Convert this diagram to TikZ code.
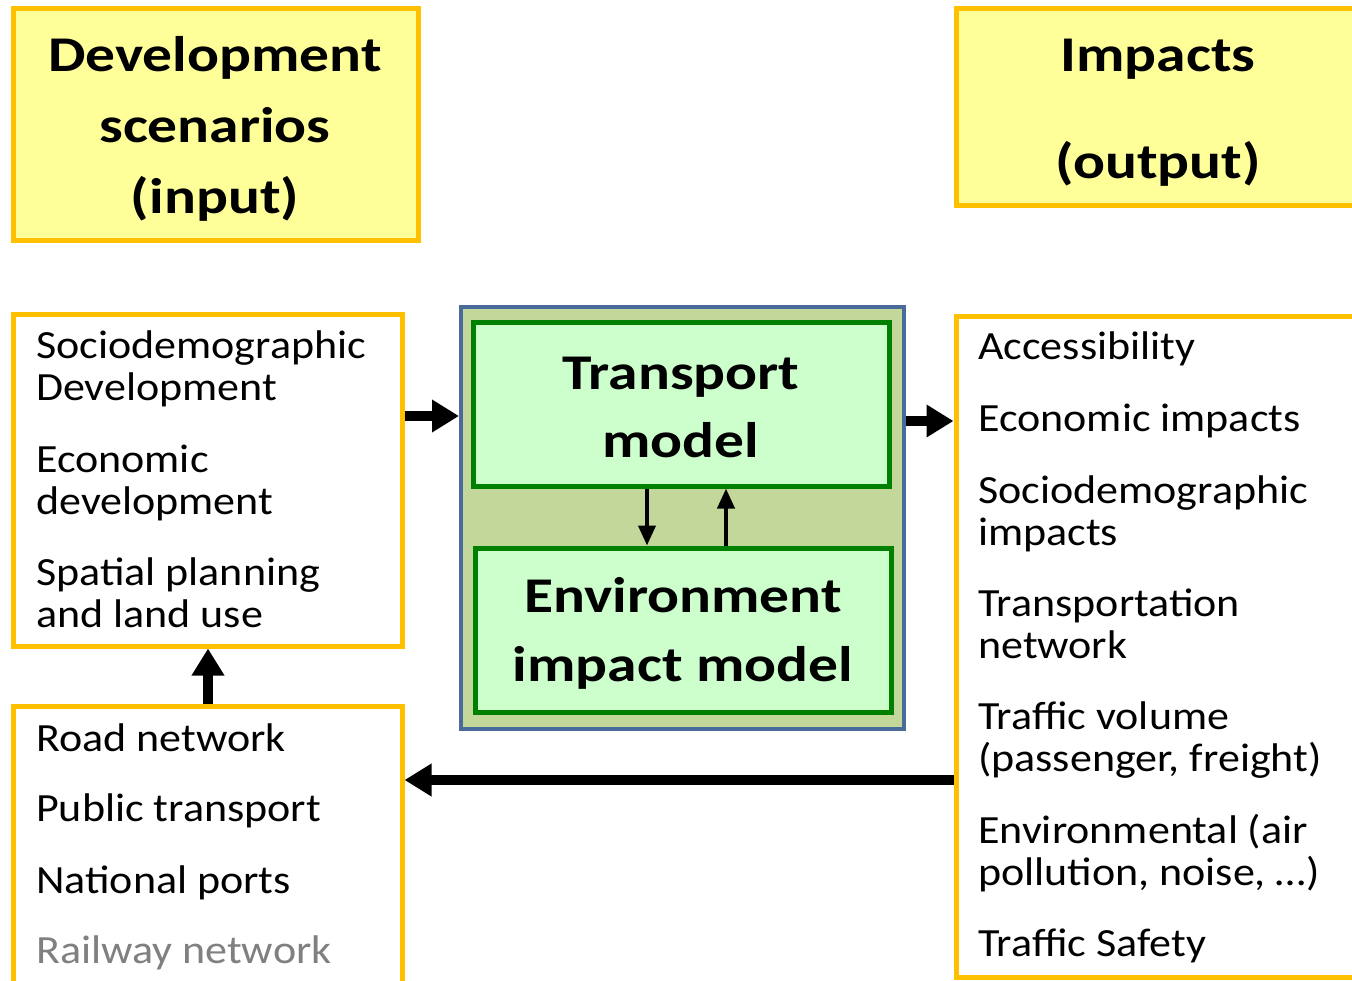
\documentclass[tikz,border=0pt]{standalone}
\usepackage{fontspec}
\setmainfont{Carlito}
\newfontfamily\bodyf[FakeStretch=1.1]{Carlito}
\newfontfamily\titf[FakeStretch=1.19]{Carlito}
\usetikzlibrary{arrows.meta}
\definecolor{gold}{HTML}{FFC000}
\definecolor{lyellow}{HTML}{FFFF99}
\definecolor{outerfill}{HTML}{C4D79B}
\definecolor{outerblue}{HTML}{4A6A9A}
\definecolor{lgreen}{HTML}{CCFFCC}
\definecolor{dgreen}{HTML}{008000}
\definecolor{railgray}{HTML}{808080}
\tikzset{
  ybox/.style={draw=gold, line width=5pt, fill=lyellow, inner sep=0pt},
  wbox/.style={draw=gold, line width=5pt, fill=white, inner sep=0pt},
  gbox/.style={draw=dgreen, line width=5pt, fill=lgreen, inner sep=0pt},
  obox/.style={draw=outerblue, line width=4pt, fill=outerfill, inner sep=0pt},
  item/.style={anchor=west, inner sep=0pt, align=left, font=\bodyf\fontsize{40}{42}\selectfont},
  title/.style={inner sep=0pt, align=center, font=\titf\fontsize{50}{71}\selectfont\bfseries},
  bigarrow/.style={line width=10pt, -{Triangle[length=27pt,width=31pt]}},
  smallarrow/.style={line width=4pt, -{Triangle[length=20pt,width=17pt]}},
}
\newcommand\ls{\strut}
\begin{document}
\begin{tikzpicture}[x=1pt,y=-1pt]
\clip (0,0) rectangle (1352,980);
\fill[white] (0,0) rectangle (1352,980);
% top title boxes
\node[ybox, minimum width=405pt, minimum height=232pt] (dev) at (215.5,124) {};
\node[title] (devt) at (215,129) {Development\\scenarios\\(input)};
\node[ybox, minimum width=420pt, minimum height=197pt] (imp) at (1166,106.5) {};
\node[title, font=\titf\fontsize{50}{107}\selectfont\bfseries] (impt) at (1158,113) {Impacts\\(output)};
% left lists
\node[wbox, minimum width=389pt, minimum height=332pt] (lt) at (207.5,480) {};
\node[item] (l1) at (36,371) {\ls Sociodemographic\\\ls Development};
\node[item] (l2) at (36,485) {\ls Economic\\\ls development};
\node[item] (l3) at (36,598) {\ls Spatial planning\\\ls and land use};
\node[wbox, minimum width=389pt, minimum height=300pt] (lb) at (207.5,856) {};
\node[item] (b1) at (36,743) {\ls Road network};
\node[item] (b2) at (36,813) {\ls Public transport};
\node[item] (b3) at (36,885) {\ls National ports};
\node[item, text=railgray] (b4) at (36,955) {\ls Railway network};
% right list
\node[wbox, minimum width=420pt, minimum height=661pt] (rt) at (1166,646.5) {};
\node[item] (r1) at (978,351) {\ls Accessibility};
\node[item] (r2) at (978,423) {\ls Economic impacts};
\node[item] (r3) at (978,516) {\ls Sociodemographic\\\ls impacts};
\node[item] (r4) at (978,629) {\ls Transportation\\\ls network};
\node[item] (r5) at (978,742) {\ls Traffic volume\\\ls (passenger, freight)};
\node[item] (r6) at (978,856) {\ls Environmental (air\\\ls pollution, noise, …)};
\node[item] (r7) at (978,948) {\ls Traffic Safety};
% center
\node[obox, minimum width=443pt, minimum height=422pt] (outer) at (682.5,518) {};
\node[gbox, minimum width=416pt, minimum height=164pt] (tm) at (681,404) {};
\node[title, font=\titf\fontsize{50}{68}\selectfont\bfseries] (tmt) at (681,407) {Transport\\model};
\node[gbox, minimum width=416pt, minimum height=164pt] (em) at (683,630) {};
\node[title, font=\titf\fontsize{50}{69}\selectfont\bfseries] (emt) at (683,633) {Environment\\impact model};
% arrows
\draw[smallarrow] (tm.south -| 647,0) -- (em.north -| 647,0);
\draw[smallarrow] (em.north -| 726,0) -- (tm.south -| 726,0);
\draw[bigarrow] (lt.east |- 0,416) -- (outer.west |- 0,416);
\draw[bigarrow] (outer.east |- 0,421) -- (rt.west |- 0,421);
\draw[bigarrow] (lb.north -| 208,0) -- (lt.south -| 208,0);
\draw[bigarrow] (rt.west |- 0,780) -- (lb.east |- 0,780);
\end{tikzpicture}
\end{document}
